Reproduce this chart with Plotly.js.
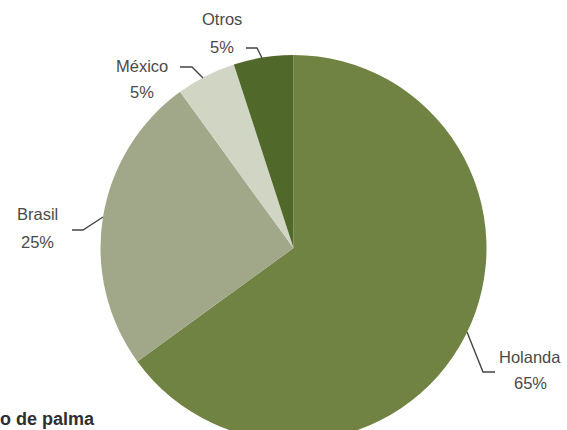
<!DOCTYPE html>
<html>
<head>
<meta charset="utf-8">
<script src="https://cdn.plot.ly/plotly-3.0.1.min.js"></script>
<style>
html,body{margin:0;padding:0;overflow:hidden;background:#fff;width:567px;height:430px;}
#chart{width:567px;height:460px;}
</style>
</head>
<body>
<div id="chart"></div>
<script>
const categories = ["Holanda", "Brasil", "México", "Otros"];
const values = [65, 25, 5, 5];
const valueLabels = ["65%", "25%", "5%", "5%"];
const colors = ["#718342", "#a1a889", "#d0d6c3", "#506829"];

const W = 567, H = 460;
const px = x => x / W;
const py = y => 1 - y / H;

// label placement (pixels): name line and value line centres
const labelPos = {
  "Holanda": {x: 530, y1: 357, y2: 383},
  "Brasil": {x: 37, y1: 214, y2: 242},
  "México": {x: 142, y1: 66, y2: 92},
  "Otros": {x: 222, y1: 19, y2: 47}
};
const leaders = {
  "Holanda": [[467,332],[483,372],[495,372]],
  "Brasil": [[72,230],[83,230],[103,217]],
  "México": [[180,67],[192,67],[203,78]],
  "Otros": [[246,48],[257,48],[262,58]]
};

const labelFont = {family: 'Liberation Sans, Arial, sans-serif', size: 16.5, color: '#4a4a4a'};
const annotations = [];
const shapes = [];
categories.forEach((c, i) => {
  const p = labelPos[c];
  annotations.push({
    x: px(p.x), y: py(p.y1), xref: 'paper', yref: 'paper',
    text: c, showarrow: false, xanchor: 'center', yanchor: 'middle',
    font: labelFont
  });
  annotations.push({
    x: px(p.x), y: py(p.y2), xref: 'paper', yref: 'paper',
    text: valueLabels[i], showarrow: false, xanchor: 'center', yanchor: 'middle',
    font: labelFont
  });
  const pts = leaders[c];
  let d = 'M ' + px(pts[0][0]) + ' ' + py(pts[0][1]);
  for (let k = 1; k < pts.length; k++) d += ' L ' + px(pts[k][0]) + ' ' + py(pts[k][1]);
  shapes.push({type: 'path', xref: 'paper', yref: 'paper', path: d,
    line: {color: '#444', width: 1.4}});
});

annotations.push({
  x: 0, y: py(419), xref: 'paper', yref: 'paper', text: '<b>o de palma</b>',
  showarrow: false, xanchor: 'left', yanchor: 'middle', xshift: -2,
  font: {family: 'Liberation Sans, Arial, sans-serif', size: 18, color: '#2f2f2f'}
});

const trace = {
  type: 'pie',
  labels: categories,
  values: values,
  sort: false,
  direction: 'clockwise',
  rotation: 0,
  textinfo: 'none',
  hoverinfo: 'label+percent',
  marker: {colors: colors, line: {width: 0}},
  domain: {x: [px(100), px(487)], y: [py(441), py(55)]},
  showlegend: false
};

Plotly.newPlot('chart', [trace], {
  width: W, height: H,
  margin: {l: 0, r: 0, t: 0, b: 0},
  paper_bgcolor: '#ffffff',
  showlegend: false,
  annotations: annotations,
  shapes: shapes
}, {displayModeBar: false, staticPlot: true});
</script>
</body>
</html>
